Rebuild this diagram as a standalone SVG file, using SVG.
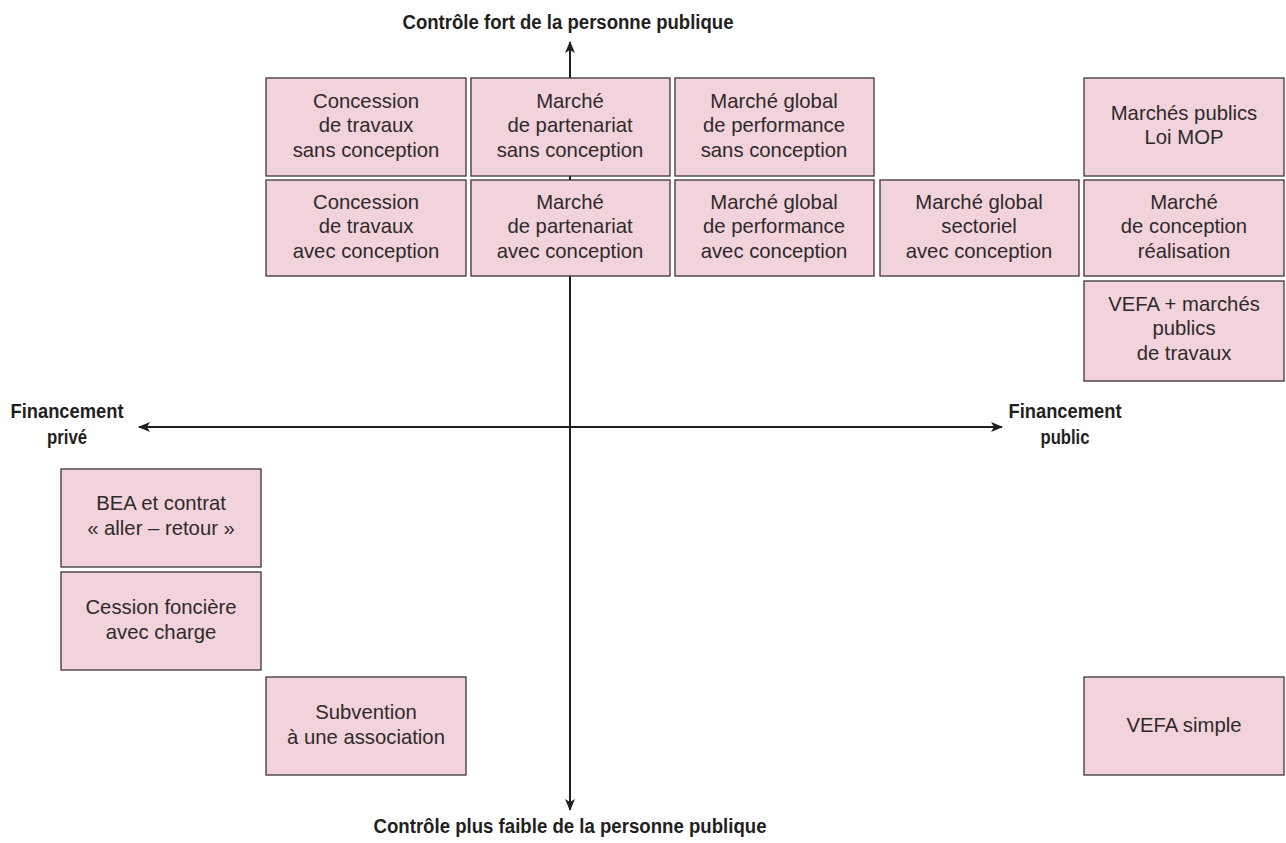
<svg xmlns="http://www.w3.org/2000/svg" width="1286" height="843" viewBox="0 0 1286 843">
<defs>
<style>
.box{fill:#f2d3dc;stroke:#3a3536;stroke-width:1.3}
.t{font-family:"Liberation Sans",Arial,sans-serif;font-size:20.3px;fill:#2e2a2b;text-anchor:middle}
.ax{font-family:"Liberation Sans",Arial,sans-serif;font-weight:bold;font-size:19.5px;fill:#231f20;text-anchor:middle}
.line{stroke:#231f20;stroke-width:2;fill:none}
</style>
<marker id="ah" viewBox="0 0 12 10" refX="11" refY="5" markerWidth="12" markerHeight="10" markerUnits="userSpaceOnUse" orient="auto">
<path d="M0,0 L12,5 L0,10 L3,5 Z" fill="#231f20"/>
</marker>
</defs>
<rect width="1286" height="843" fill="#ffffff"/>
<g id="connectors">
<line class="line" x1="570" y1="427" x2="570" y2="42" marker-end="url(#ah)"/>
<line class="line" x1="570" y1="427" x2="570" y2="810" marker-end="url(#ah)"/>
<line class="line" x1="570" y1="427" x2="139" y2="427" marker-end="url(#ah)"/>
<line class="line" x1="570" y1="427" x2="1002" y2="427" marker-end="url(#ah)"/>
</g>
<g id="axis-labels">
<text class="ax" x="568" y="29" textLength="331" lengthAdjust="spacingAndGlyphs">Contrôle fort de la personne publique</text>
<text class="ax" x="570" y="833" textLength="393" lengthAdjust="spacingAndGlyphs">Contrôle plus faible de la personne publique</text>
<text class="ax" x="67" y="418" textLength="113" lengthAdjust="spacingAndGlyphs">Financement</text>
<text class="ax" x="67" y="444" textLength="40" lengthAdjust="spacingAndGlyphs">privé</text>
<text class="ax" x="1065" y="418" textLength="113" lengthAdjust="spacingAndGlyphs">Financement</text>
<text class="ax" x="1065" y="444" textLength="49" lengthAdjust="spacingAndGlyphs">public</text>
</g>
<g id="n1"><rect class="box" x="266" y="78" width="200" height="98"/><text class="t" x="366" y="108">Concession</text><text class="t" x="366" y="132">de travaux</text><text class="t" x="366" y="157">sans conception</text></g>
<g id="n2"><rect class="box" x="471" y="78" width="199" height="98"/><text class="t" x="570" y="108">Marché</text><text class="t" x="570" y="132">de partenariat</text><text class="t" x="570" y="157">sans conception</text></g>
<g id="n3"><rect class="box" x="675" y="78" width="199" height="98"/><text class="t" x="774" y="108">Marché global</text><text class="t" x="774" y="132">de performance</text><text class="t" x="774" y="157">sans conception</text></g>
<g id="n4"><rect class="box" x="1084" y="78" width="200" height="98"/><text class="t" x="1184" y="120">Marchés publics</text><text class="t" x="1184" y="144">Loi MOP</text></g>
<g id="n5"><rect class="box" x="266" y="180" width="200" height="96"/><text class="t" x="366" y="209">Concession</text><text class="t" x="366" y="233">de travaux</text><text class="t" x="366" y="258">avec conception</text></g>
<g id="n6"><rect class="box" x="471" y="180" width="199" height="96"/><text class="t" x="570" y="209">Marché</text><text class="t" x="570" y="233">de partenariat</text><text class="t" x="570" y="258">avec conception</text></g>
<g id="n7"><rect class="box" x="675" y="180" width="199" height="96"/><text class="t" x="774" y="209">Marché global</text><text class="t" x="774" y="233">de performance</text><text class="t" x="774" y="258">avec conception</text></g>
<g id="n8"><rect class="box" x="880" y="180" width="199" height="96"/><text class="t" x="979" y="209">Marché global</text><text class="t" x="979" y="233">sectoriel</text><text class="t" x="979" y="258">avec conception</text></g>
<g id="n9"><rect class="box" x="1084" y="180" width="200" height="96"/><text class="t" x="1184" y="209">Marché</text><text class="t" x="1184" y="233">de conception</text><text class="t" x="1184" y="258">réalisation</text></g>
<g id="n10"><rect class="box" x="1084" y="281" width="200" height="100"/><text class="t" x="1184" y="311">VEFA + marchés</text><text class="t" x="1184" y="335">publics</text><text class="t" x="1184" y="360">de travaux</text></g>
<g id="n11"><rect class="box" x="61" y="469" width="200" height="98"/><text class="t" x="161" y="510">BEA et contrat</text><text class="t" x="161" y="535">« aller – retour »</text></g>
<g id="n12"><rect class="box" x="61" y="572" width="200" height="98"/><text class="t" x="161" y="614">Cession foncière</text><text class="t" x="161" y="639">avec charge</text></g>
<g id="n13"><rect class="box" x="266" y="677" width="200" height="98"/><text class="t" x="366" y="719">Subvention</text><text class="t" x="366" y="744">à une association</text></g>
<g id="n14"><rect class="box" x="1084" y="677" width="200" height="98"/><text class="t" x="1184" y="732">VEFA simple</text></g>
</svg>
